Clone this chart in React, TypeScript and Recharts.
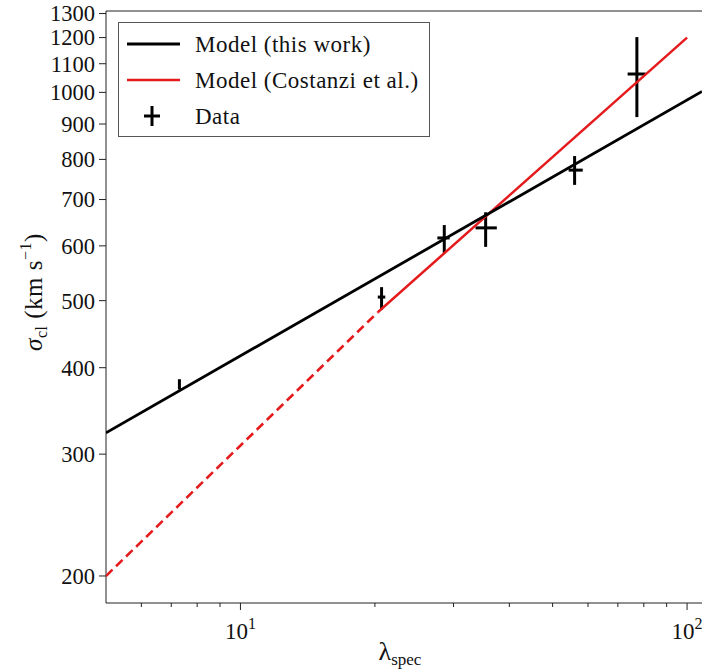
import React from "react";
import { ScatterChart, Scatter, XAxis, YAxis, ErrorBar, Legend, ReferenceLine } from "recharts";

const FONT = "'Liberation Serif', 'DejaVu Serif', serif";
const RED = "#e41a1c";

const lambdaTicks = [6, 7, 8, 9, 10, 20, 30, 40, 50, 60, 70, 80, 90, 100];
const sigmaTicks = [200, 300, 400, 500, 600, 700, 800, 900, 1000, 1100, 1200, 1300];

// model lines (end points)
const modelThisWork = [
  { lam: 5, sigma: 322 },
  { lam: 108, sigma: 1003 },
];
const costanziSolid = [
  { lam: 20.3, sigma: 481 },
  { lam: 100, sigma: 1200 },
];
const costanziDashed = [
  { lam: 5, sigma: 200 },
  { lam: 20.3, sigma: 481 },
];

// binned data with [lower, upper] errors
const dataLam = [7.3, 20.7, 28.6, 35.4, 56.0, 77.2];
const dataSigma = [379, 506, 616, 637, 772, 1063];
const lamErr = [[0, 0], [0.4, 0.4], [1.0, 0.8], [1.8, 2.1], [1.7, 2.4], [3.6, 3.6]];
const sigmaErr = [[7, 6], [21, 17], [30, 27], [39, 34], [37, 37], [142, 139]];

const points = dataLam.map((lam, i) => ({
  lam,
  sigma: dataSigma[i],
  lamErr: lamErr[i],
  sigmaErr: sigmaErr[i],
}));

function LamTick(props: any) {
  const { x, y, payload } = props;
  const v = payload.value;
  const major = v === 10 || v === 100;
  return (
    <g>
      <line x1={x} x2={x} y1={y} y2={y + (major ? 7 : 4)} stroke="#222" strokeWidth={1} />
      {major && (
        <text x={x} y={y + 36} textAnchor="middle" fontFamily={FONT} fontSize={23} fill="#111">
          10
          <tspan dy={-10} fontSize={16}>
            {v === 10 ? "1" : "2"}
          </tspan>
        </text>
      )}
    </g>
  );
}

function SigmaTick(props: any) {
  const { x, y, payload } = props;
  return (
    <g>
      <line x1={x - 7} x2={x} y1={y} y2={y} stroke="#222" strokeWidth={1} />
      <text x={x - 11} y={y} dy="0.35em" textAnchor="end" fontFamily={FONT} fontSize={22.5} fill="#111">
        {payload.value}
      </text>
    </g>
  );
}

function LegendBox() {
  return (
    <svg width={312} height={115} style={{ display: "block" }}>
      <rect x={0.5} y={0.5} width={311} height={114} fill="#fff" stroke="#555" strokeWidth={1} />
      <line x1={9} x2={62} y1={22} y2={22} stroke="#000" strokeWidth={2.8} />
      <line x1={9} x2={62} y1={58} y2={58} stroke={RED} strokeWidth={2.5} />
      <line x1={26} x2={42} y1={94} y2={94} stroke="#000" strokeWidth={3} />
      <line x1={34} x2={34} y1={84} y2={104} stroke="#000" strokeWidth={3} />
      <g fontFamily={FONT} fontSize={23} letterSpacing={0.5} fill="#111">
        <text x={77} y={22} dy="0.35em">Model (this work)</text>
        <text x={77} y={58} dy="0.35em">Model (Costanzi et al.)</text>
        <text x={77} y={94} dy="0.35em">Data</text>
      </g>
    </svg>
  );
}

const NoDot = () => <g />;

export default function App() {
  return (
    <div style={{ position: "fixed", left: 0, top: 0, width: 702, height: 670, overflow: "hidden", background: "#fff" }}>
      <ScatterChart width={702} height={670} margin={{ top: 11, right: 0, bottom: 0, left: 0 }}>
        <XAxis
          dataKey="lam"
          type="number"
          scale="log"
          domain={[5, 108]}
          allowDataOverflow
          ticks={lambdaTicks}
          interval={0}
          tick={<LamTick />}
          tickLine={false}
          tickSize={0}
          tickMargin={0}
          height={67}
          axisLine={{ stroke: "#222", strokeWidth: 1 }}
          label={{
            content: () => (
              <text x={400} y={660} textAnchor="middle" fontFamily={FONT} fontSize={26} fill="#111">
                λ<tspan dy={5} fontSize={17}>spec</tspan>
              </text>
            ),
          }}
        />
        <YAxis
          dataKey="sigma"
          type="number"
          scale="log"
          domain={[182.8, 1311]}
          allowDataOverflow
          ticks={sigmaTicks}
          interval={0}
          tick={<SigmaTick />}
          tickLine={false}
          tickSize={0}
          tickMargin={0}
          width={106}
          axisLine={{ stroke: "#222", strokeWidth: 1 }}
          label={{
            content: () => (
              <text transform="translate(42,292) rotate(-90)" textAnchor="middle" fontFamily={FONT} fontSize={25} letterSpacing={0.5} fill="#111">
                <tspan fontStyle="italic">σ</tspan>
                <tspan fontSize={16} dy={5}>cl</tspan>
                <tspan dy={-5}> (km s</tspan>
                <tspan fontSize={16} dy={-11}>−1</tspan>
                <tspan dy={11}>)</tspan>
              </text>
            ),
          }}
        />
        <ReferenceLine y={1311} stroke="#222" strokeWidth={1} ifOverflow="visible" />
        <Scatter
          name="Model (Costanzi et al.) extrapolated"
          data={costanziDashed}
          line={{ stroke: RED, strokeWidth: 2.5, strokeDasharray: "9 5" }}
          shape={NoDot}
          legendType="none"
          isAnimationActive={false}
        />
        <Scatter
          name="Model (Costanzi et al.)"
          data={costanziSolid}
          line={{ stroke: RED, strokeWidth: 2.5 }}
          shape={NoDot}
          isAnimationActive={false}
        />
        <Scatter
          name="Model (this work)"
          data={modelThisWork}
          line={{ stroke: "#000", strokeWidth: 2.8 }}
          shape={NoDot}
          isAnimationActive={false}
        />
        <Scatter name="Data" data={points} shape={NoDot} fill="#000" isAnimationActive={false}>
          <ErrorBar dataKey="sigmaErr" direction="y" width={0} stroke="#000" strokeWidth={3} />
          <ErrorBar dataKey="lamErr" direction="x" width={0} stroke="#000" strokeWidth={3} />
        </Scatter>
        <Legend
          layout="vertical"
          align="center"
          verticalAlign="middle"
          wrapperStyle={{ position: "absolute", left: 118, top: 22, width: 312, height: 115 }}
          content={() => <LegendBox />}
        />
      </ScatterChart>
    </div>
  );
}
